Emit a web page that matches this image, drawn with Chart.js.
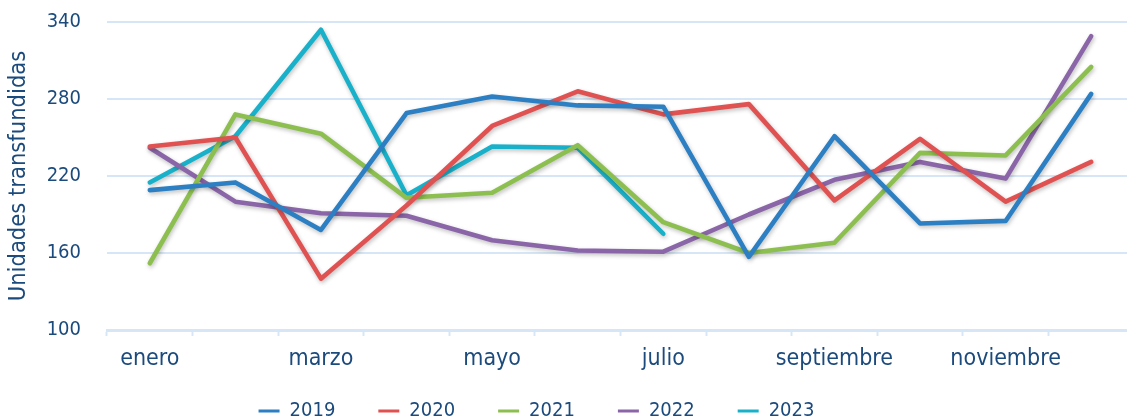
<!DOCTYPE html>
<html lang="es">
<head>
<meta charset="utf-8">
<script src="https://cdn.jsdelivr.net/npm/chart.js@4/dist/chart.umd.min.js"></script>
<style>
  html, body { margin: 0; padding: 0; background: #fff; overflow: hidden; }
  #wrap { position: relative; width: 1134px; height: 448px; }
</style>
</head>
<body>
<div id="wrap"><canvas id="c"></canvas></div>
<script>
/* Datos */
const meses = ["enero", "febrero", "marzo", "abril", "mayo", "junio",
               "julio", "agosto", "septiembre", "octubre", "noviembre", "diciembre"];
const y2019 = [209, 215, 178, 269, 282, 275, 274, 157, 251, 183, 185, 284];
const y2020 = [243, 250, 140, 197, 259, 286, 268, 276, 201, 249, 200, 231];
const y2021 = [152, 268, 253, 203, 207, 244, 184, 160, 168, 238, 236, 305];
const y2022 = [242, 200, 191, 189, 170, 162, 161, 190, 217, 231, 218, 329];
const y2023 = [215, 251, 334, 205, 243, 242, 175, null, null, null, null, null];
const yTicks = [100, 160, 220, 280, 340];

const TEXT = "#1b4a7c";
const GRID = "#d6e6f6";
const FONT = "'DejaVu Sans Condensed', 'DejaVu Sans'";

// ── sombra suave bajo cada línea ──
const lineShadow = {
  id: "lineShadow",
  beforeDatasetDraw(chart) {
    const ctx = chart.ctx;
    ctx.save();
    ctx.shadowColor = "rgba(0,0,0,0.25)";
    ctx.shadowBlur = 4;
    ctx.shadowOffsetX = 1;
    ctx.shadowOffsetY = 2;
  },
  afterDatasetDraw(chart) {
    chart.ctx.restore();
  },
};

// la leyenda original no está centrada y queda algo más arriba
const legendShift = {
  id: "legendShift",
  afterLayout(chart) {
    const lg = chart.legend;
    if (!lg) return;
    const h = lg.bottom - lg.top;
    lg.top = 358;
    lg.bottom = 358 + h;
    lg.right = 1073;
  },
};

const serie = (label, data, color) => ({
  label,
  data,
  borderColor: color,
  backgroundColor: color,
  borderWidth: 4.6,
  pointRadius: 0,
  pointHoverRadius: 0,
  tension: 0,
  fill: false,
  spanGaps: false,
  borderCapStyle: "round",
  borderJoinStyle: "round",
});

new Chart(document.getElementById("c"), {
  type: "line",
  data: {
    labels: meses,
    datasets: [
      serie("2019", y2019, "#2b7fc2"),
      serie("2020", y2020, "#e05252"),
      serie("2021", y2021, "#8cbf4f"),
      serie("2022", y2022, "#8a65a8"),
      serie("2023", y2023, "#19b1c9"),
    ],
  },
  options: {
    responsive: true,
    maintainAspectRatio: false,
    animation: false,
    layout: { padding: { top: 22, right: 0, bottom: 0, left: 0 } },
    plugins: {
      tooltip: { enabled: false },
      legend: {
        position: "bottom",
        labels: {
          boxWidth: 21,
          boxHeight: 3,
          padding: 43,
          color: TEXT,
          font: { family: FONT, size: 20 },
          // marcador fino: sin borde alrededor de la caja
          generateLabels: (chart) =>
            Chart.defaults.plugins.legend.labels
              .generateLabels(chart)
              .map((it) => ({ ...it, lineWidth: 0 })),
        },
      },
    },
    scales: {
      x: {
        offset: true,
        afterFit: (s) => { s.height = 45; },
        grid: {
          offset: true,
          drawOnChartArea: false,
          drawTicks: true,
          tickLength: 6,
          tickWidth: 2,
          tickColor: GRID,
        },
        border: { display: true, color: GRID, width: 3 },
        ticks: {
          autoSkip: false,
          maxRotation: 0,
          padding: 9,
          color: TEXT,
          font: { family: FONT, size: 23 },
          callback: (v, i) => (i % 2 === 0 ? meses[i] : ""),
        },
      },
      y: {
        min: 100,
        max: 340,
        afterBuildTicks: (s) => { s.ticks = yTicks.map((v) => ({ value: v })); },
        afterFit: (s) => {
          s.width = 107;
          s.paddingTop = 12;
          s.paddingBottom = 12;
        },
        grid: { color: GRID, lineWidth: 2, drawTicks: false },
        border: { display: false },
        ticks: {
          padding: 26,
          color: TEXT,
          font: { family: FONT, size: 20 },
        },
        title: {
          display: true,
          text: "Unidades transfundidas",
          color: TEXT,
          padding: { top: 5, bottom: 10 },
          font: { family: FONT, size: 23.5 },
        },
      },
    },
  },
  plugins: [lineShadow, legendShift],
});
</script>
</body>
</html>
